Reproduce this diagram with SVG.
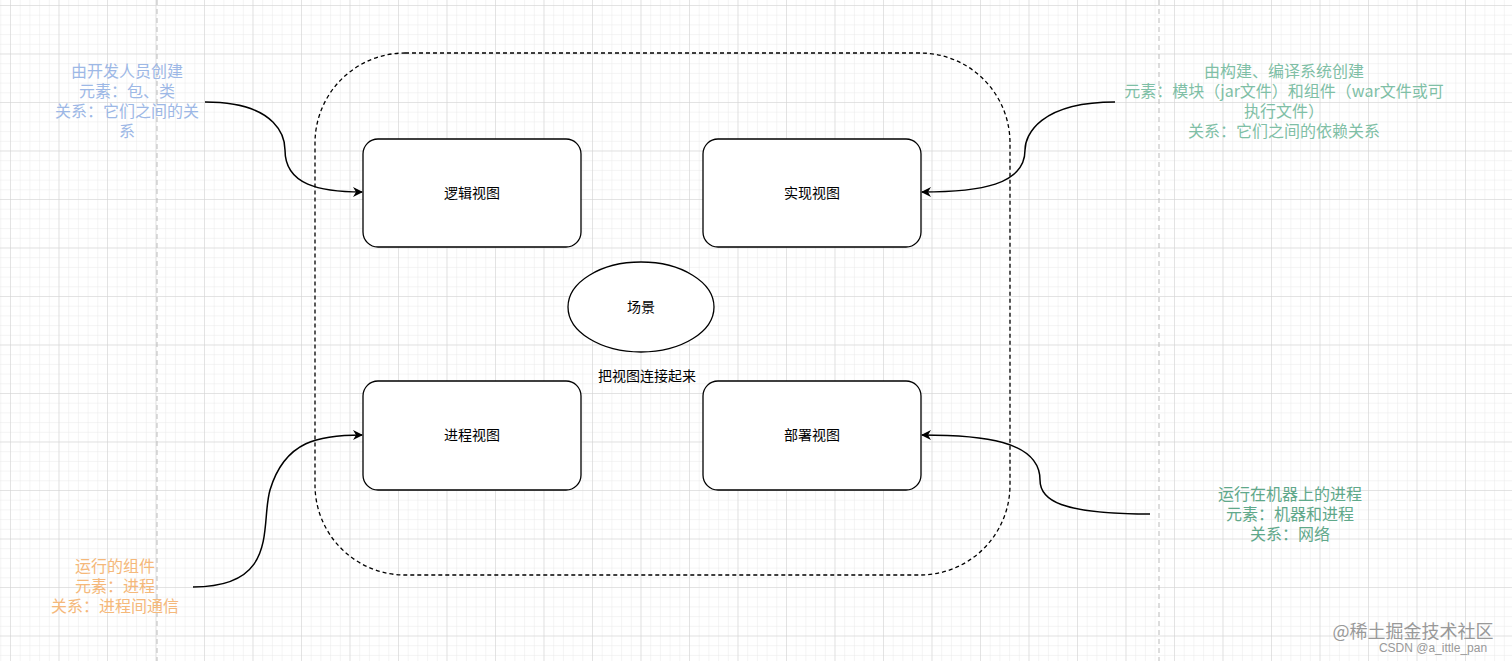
<svg xmlns="http://www.w3.org/2000/svg" width="1512" height="661" viewBox="0 0 1512 661">
<defs>
<pattern id="minor" x="0.3" y="5" width="9.7" height="9.7" patternUnits="userSpaceOnUse"><path d="M0 0V9.7M0 0H9.7" stroke="#e9e9e9" stroke-width="1" fill="none"/></pattern>
<pattern id="major" x="10" y="5" width="48.5" height="48.5" patternUnits="userSpaceOnUse"><path d="M0 0V48.5M0 0H48.5" stroke="#d2d2d2" stroke-width="1" fill="none"/></pattern>
<marker id="arr" viewBox="0 0 10 10" refX="9" refY="5" markerWidth="10" markerHeight="10" markerUnits="userSpaceOnUse" orient="auto"><path d="M0 0L10 5L0 10L3 5Z" fill="#000"/></marker>
<style>
.box{fill:#fff;stroke:#000;stroke-width:1.3}
.lbl{font-family:"Noto Sans CJK SC","Liberation Sans",sans-serif;font-size:14px;text-anchor:middle;fill:#000}
.note{font-family:"Noto Sans CJK SC","Liberation Sans",sans-serif;font-size:16px;text-anchor:middle}
.edge{fill:none;stroke:#000;stroke-width:1.5;marker-end:url(#arr)}
</style>
</defs>
<rect width="1512" height="661" fill="#fff"/>
<rect width="1512" height="661" fill="url(#minor)"/>
<rect width="1512" height="661" fill="url(#major)"/>
<line x1="157" y1="0" x2="157" y2="661" stroke="#bbb" stroke-dasharray="5 4"/>
<line x1="1159" y1="0" x2="1159" y2="661" stroke="#bbb" stroke-dasharray="5 4"/>
<g id="container"><rect x="315" y="53" width="695" height="522" rx="90" fill="none" stroke="#000" stroke-width="1.3" stroke-dasharray="4 3"/></g>
<g id="logical"><rect class="box" x="363" y="139" width="218" height="108" rx="15"/><text class="lbl" x="472" y="198">逻辑视图</text></g>
<g id="impl"><rect class="box" x="703" y="139" width="218" height="108" rx="15"/><text class="lbl" x="812" y="198">实现视图</text></g>
<g id="process"><rect class="box" x="363" y="381" width="218" height="109" rx="15"/><text class="lbl" x="472" y="440">进程视图</text></g>
<g id="deploy"><rect class="box" x="703" y="381" width="218" height="109" rx="15"/><text class="lbl" x="812" y="440">部署视图</text></g>
<g id="scene"><ellipse cx="641" cy="307" rx="73" ry="45" fill="#fff" stroke="#000" stroke-width="1.3"/><text class="lbl" x="641" y="312">场景</text></g>
<g id="caption"><text class="lbl" x="647" y="381">把视图连接起来</text></g>
<g id="connectors">
<path class="edge" d="M205 102C280 102 285 140 285 150C285 185 320 192 362 192"/>
<path class="edge" d="M1115 102C1040 102 1025 135 1025 150C1025 185 980 192 922 192"/>
<path class="edge" d="M193 587C280 587 260 525 270 490C285 440 320 435 362 435"/>
<path class="edge" d="M1150 514C1060 514 1040 500 1040 480C1040 440 980 435 922 435"/>
</g>
<g id="note-logical" class="note" fill="#9db8e6"><text x="127" y="77">由开发人员创建</text><text x="127" y="97">元素：包、类</text><text x="127" y="117">关系：它们之间的关</text><text x="127" y="137">系</text></g>
<g id="note-impl" class="note" fill="#7fbfa6"><text x="1284" y="77">由构建、编译系统创建</text><text x="1284" y="97">元素：模块（jar文件）和组件（war文件或可</text><text x="1284" y="117">执行文件）</text><text x="1284" y="137">关系：它们之间的依赖关系</text></g>
<g id="note-process" class="note" fill="#f5b87a"><text x="115" y="572">运行的组件</text><text x="115" y="592">元素：进程</text><text x="115" y="612">关系：进程间通信</text></g>
<g id="note-deploy" class="note" fill="#5fa88a"><text x="1290" y="500">运行在机器上的进程</text><text x="1290" y="520">元素：机器和进程</text><text x="1290" y="540">关系：网络</text></g>
<g id="watermark"><text x="1413" y="638" font-family="Noto Sans CJK SC,sans-serif" font-size="18" text-anchor="middle" fill="#999">@稀土掘金技术社区</text><text x="1433" y="652" font-family="Liberation Sans,sans-serif" font-size="12" text-anchor="middle" fill="#999">CSDN @a_ittle_pan</text></g>
</svg>
